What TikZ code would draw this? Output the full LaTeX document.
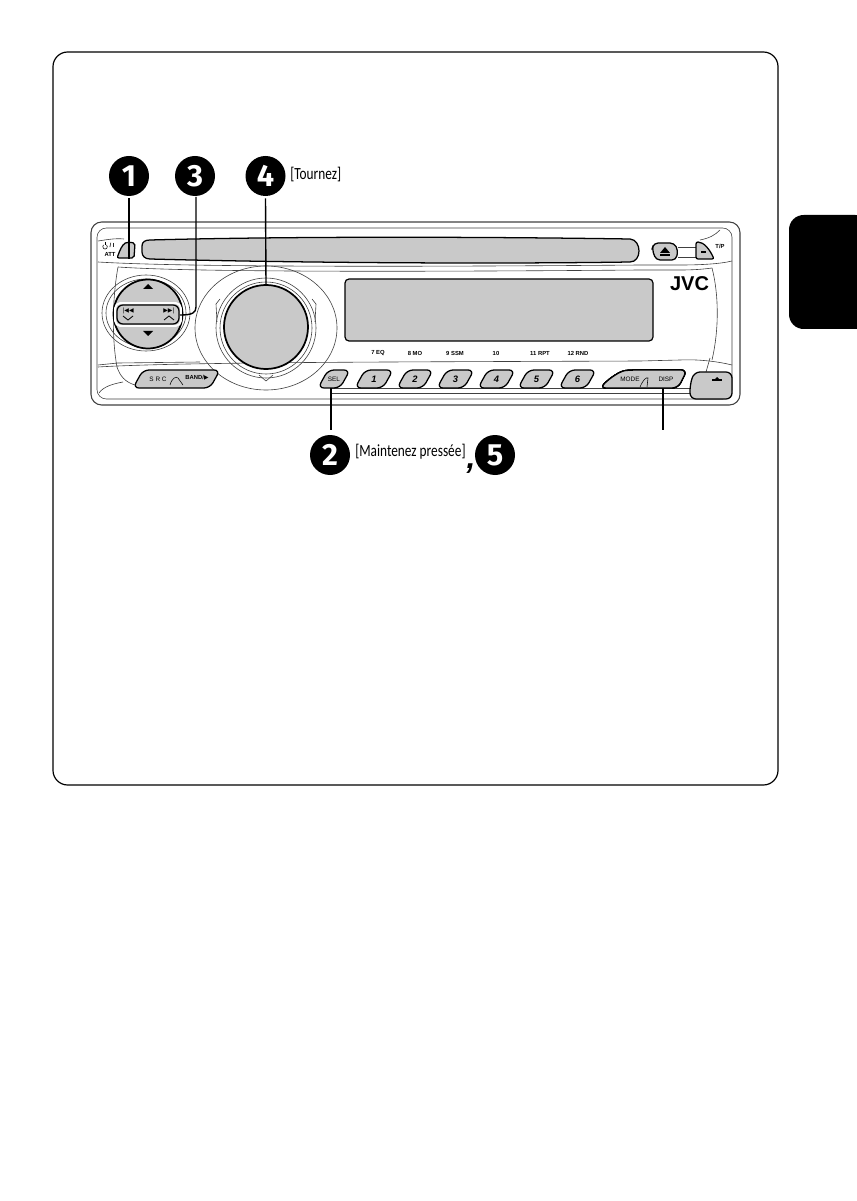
\documentclass[tikz,border=0pt]{standalone}
\usepackage{fontspec}
\usepackage{tikz}
\setmainfont{Liberation Sans}
\newfontfamily\narrowfont[FakeStretch=0.78]{Carlito}
\newfontfamily\symfont{DejaVu Sans}
\newfontfamily\heavyfont{Fira Sans}
\definecolor{panelgray}{HTML}{C9C9C9}
\tikzset{
  numdot/.style={circle,fill=black,text=white,minimum size=30pt,inner sep=0pt,font=\fontsize{23}{23}\heavyfont\bfseries},
  hint/.style={inner sep=0pt,anchor=west,font=\fontsize{12.8}{13}\narrowfont},
  leader/.style={draw=black,line width=1.05pt},
  faceline/.style={draw=black!75,line width=0.45pt},
  keybox/.style={draw=black,line width=0.95pt,fill=panelgray,rounded corners=4.5pt},
  keytag/.style={inner sep=0pt,font=\fontsize{4.8}{5}\selectfont},
  bandtag/.style={inner sep=0pt,font=\fontsize{4.4}{5}\selectfont\bfseries},
}
\newcommand{\softkey}[5]{
  \draw[keybox] (#2,388) -- (#2+10,370) -- (#3,370) -- (#3-10,388) -- cycle;
  \node[keytag,#5] (#1) at ({(#2+#3)/2},379) {#4};
}
\begin{document}
\begin{tikzpicture}[x=0.75pt,y=-0.75pt]
\useasboundingbox (0,0) rectangle (856,1201);
\draw[line width=0.9pt,rounded corners=11pt] (53,52) rectangle (778,785);
\fill[rounded corners=11pt] (870,215) -- (789,215) -- (789,329) -- (870,329) -- cycle;

\draw[faceline,line width=0.8pt,rounded corners=8pt] (91,222) rectangle (740,405);
\draw[faceline,rounded corners=7pt] (97,228) rectangle (732,399);
\draw[faceline] (98,241) .. controls (105,240) and (115,238) .. (124,239);
\draw[faceline] (98,262) .. controls (180,267) and (400,267) .. (640,265) -- (680,265) .. controls (700,265) and (720,264) .. (732,261);
\draw[faceline] (118,267) .. controls (190,272) and (400,272) .. (640,270) -- (680,270) .. controls (695,270) and (705,269) .. (712,268);
\draw[faceline] (712,268) .. controls (719,295) and (719,330) .. (712,360);
\draw[faceline] (118,267) .. controls (112,300) and (112,340) .. (117,367);
\draw[faceline] (98,367) .. controls (180,362) and (400,362) .. (640,361) -- (680,360) .. controls (700,359) and (720,362) .. (732,365);
\draw[faceline] (117,367) .. controls (120,376) and (125,382) .. (135,385);
\draw[faceline] (99,393) .. controls (103,387) and (112,384) .. (123,382);
\draw[faceline] (330,388) -- (690,388);
\draw[faceline] (98,365) -- (118,363) -- (200,362);
\draw[faceline] (710,358) -- (706,372);
\draw[faceline] (720,230) .. controls (715,235) and (710,238) .. (700,240);
\draw[faceline] (678,247) -- (696,247);
\draw[faceline] (678,257) -- (696,257);
\draw[faceline] (330,393) -- (690,393);

\draw[keybox,rounded corners=0pt] (142,246) .. controls (142,242) and (145,240) .. (150,240) .. controls (300,236) and (500,237) .. (630,239) .. controls (642,240) and (642,262) .. (630,262) .. controls (500,264) and (300,263) .. (150,259) .. controls (145,259) and (142,256) .. (142,252) -- cycle;
\draw[keybox,rounded corners=1.5pt] (117,258) .. controls (120,250) and (122,245) .. (127,242) -- (135,243) -- (134,258) -- cycle;
\coordinate (powerfoot) at (129,259);
\draw[keybox,rounded corners=3pt] (652,249) -- (654,243) -- (674,243) -- (678,250) -- (676,260) -- (656,260) -- cycle;
\draw[keybox,rounded corners=1.5pt] (696,259) -- (696,242) .. controls (704,242) and (710,250) .. (714,259) -- cycle;
\fill (665,247) -- (670,253) -- (660,253) -- cycle;
\fill (660,254) rectangle (670,256);
\fill (701,251) rectangle (706,253);
\node[bandtag] (tptag) at (720,246) {T/P};
\node[bandtag] (atttag) at (110,254) {ATT};
\node[bandtag] (slashtag) at (112,245.5) {/ I};
\draw[line width=0.4pt] (106.5,245) arc[start angle=-50,end angle=230,radius=2.3];
\draw[line width=0.4pt] (105,242) -- (105,245);

\draw[faceline] (146,313) ellipse (44 and 38);
\draw[faceline] (146,313) ellipse (40 and 34);
\draw[draw=black,line width=1.3pt,fill=panelgray] (148,314) circle (34.5);
\draw[draw=white,line width=1.4pt,fill=panelgray,rounded corners=4pt] (115,303) rectangle (181,326);
\draw[keybox,fill=panelgray] (117,305) rectangle (179,324);
\fill (148,284) -- (153,289) -- (143,289) -- cycle;
\fill (148,336) -- (153,331) -- (143,331) -- cycle;
\node[inner sep=0pt,font=\fontsize{4.5}{5}\symfont] (prevtag) at (128,311) {|◀◀};
\node[inner sep=0pt,font=\fontsize{4.5}{5}\symfont] (nexttag) at (169,311) {▶▶|};
\draw[line width=0.6pt] (123,316) -- (128,320) -- (133,316);
\draw[line width=0.6pt] (164,320) -- (169,316) -- (174,320);
\coordinate (seekedge) at (180,315);

\draw[faceline] (266,328) ellipse (71 and 62);
\draw[faceline] (266,328) circle (50);
\draw[faceline] (266,328) circle (46);
\draw[faceline] (220,299) -- (216,304) -- (217,322);
\draw[faceline] (312,299) -- (316,304) -- (315,322);
\draw[faceline] (259,375) -- (266,381) -- (273,375);
\draw[line width=1.3pt,fill=panelgray] (266,327) circle (42);
\coordinate (knobtop) at (266,285);

\draw[draw=black,line width=0.9pt,fill=panelgray,rounded corners=3pt] (345,279) rectangle (653,341);
\foreach \tagname/\tagx/\tagtext in {eq/378/7 EQ,mo/415/8 MO,ssm/455/9 SSM,ten/496/10,rpt/540/11 RPT,rnd/578/12 RND}
  \node[bandtag] (\tagname) at (\tagx,353) {\tagtext};
\node[inner sep=0pt,font=\fontsize{15}{15}\selectfont\bfseries] (jvclogo) at (689.5,284) {JVC};

\softkey{keysrc}{133}{220}{}{}
\node[keytag] (srctag) at (158,379) {S R C};
\node[bandtag] (bandtag) at (197,378) {BAND/{\symfont ▶}};
\draw[line width=0.4pt] (170,385) .. controls (172,378) and (176,376) .. (178,378) -- (183,385);
\softkey{keysel}{318}{350}{SEL}{}
\foreach \keyname/\xa/\xb/\keytext in {keyone/355/393/1,keytwo/397/433/2,keythree/437/474/3,keyfour/478/515/4,keyfive/518/555/5,keysix/559/596/6}
  \softkey{\keyname}{\xa}{\xb}{\keytext}{font=\fontsize{7}{8}\selectfont\bfseries\itshape}
\draw[keybox] (600,388) .. controls (610,378) and (620,371) .. (632,370) -- (687,370) -- (678,388) -- cycle;
\node[keytag] (modetag) at (630,379) {MODE};
\node[keytag] (disptag) at (666,379) {DISP};
\draw[line width=0.4pt] (640,387) .. controls (643,380) and (646,377) .. (648,378) -- (647,387);
\draw[keybox] (694,372) -- (732,372) -- (732,399) -- (690,399) -- (690,385) -- cycle;
\fill (717,377) -- (719,379) -- (715,379) -- cycle;
\fill (712,379) rectangle (722,381);

\node[numdot] (dotone) at (129,176) {1};
\node[numdot] (dotthree) at (195,176) {3};
\node[numdot] (dotfour) at (265.5,176) {4};
\node[numdot] (dottwo) at (330,455) {2};
\node[numdot] (dotfive) at (495,455) {5};
\node[hint] (turnhint) at (290,174) {[Tournez]};
\node[hint] (holdhint) at (355,452) {[Maintenez pressée]};
\node[inner sep=0pt,font=\fontsize{24}{24}\selectfont\bfseries\itshape] (commatag) at (471,469) {,};
\coordinate (selfoot) at (331,388);
\coordinate (dispfoot) at (663,388);
\coordinate (dispend) at (663,430);

\draw[leader] (dotone.south) ++(0,2) -- (powerfoot);
\draw[leader] (196,197) -- (196,307) .. controls (196,313) and (192,315) .. (seekedge);
\draw[leader] (dotfour.south) ++(0,2) -- (knobtop);
\draw[leader] (selfoot) -- (331,430);
\draw[leader] (dispfoot) -- (dispend);
\end{tikzpicture}
\end{document}
